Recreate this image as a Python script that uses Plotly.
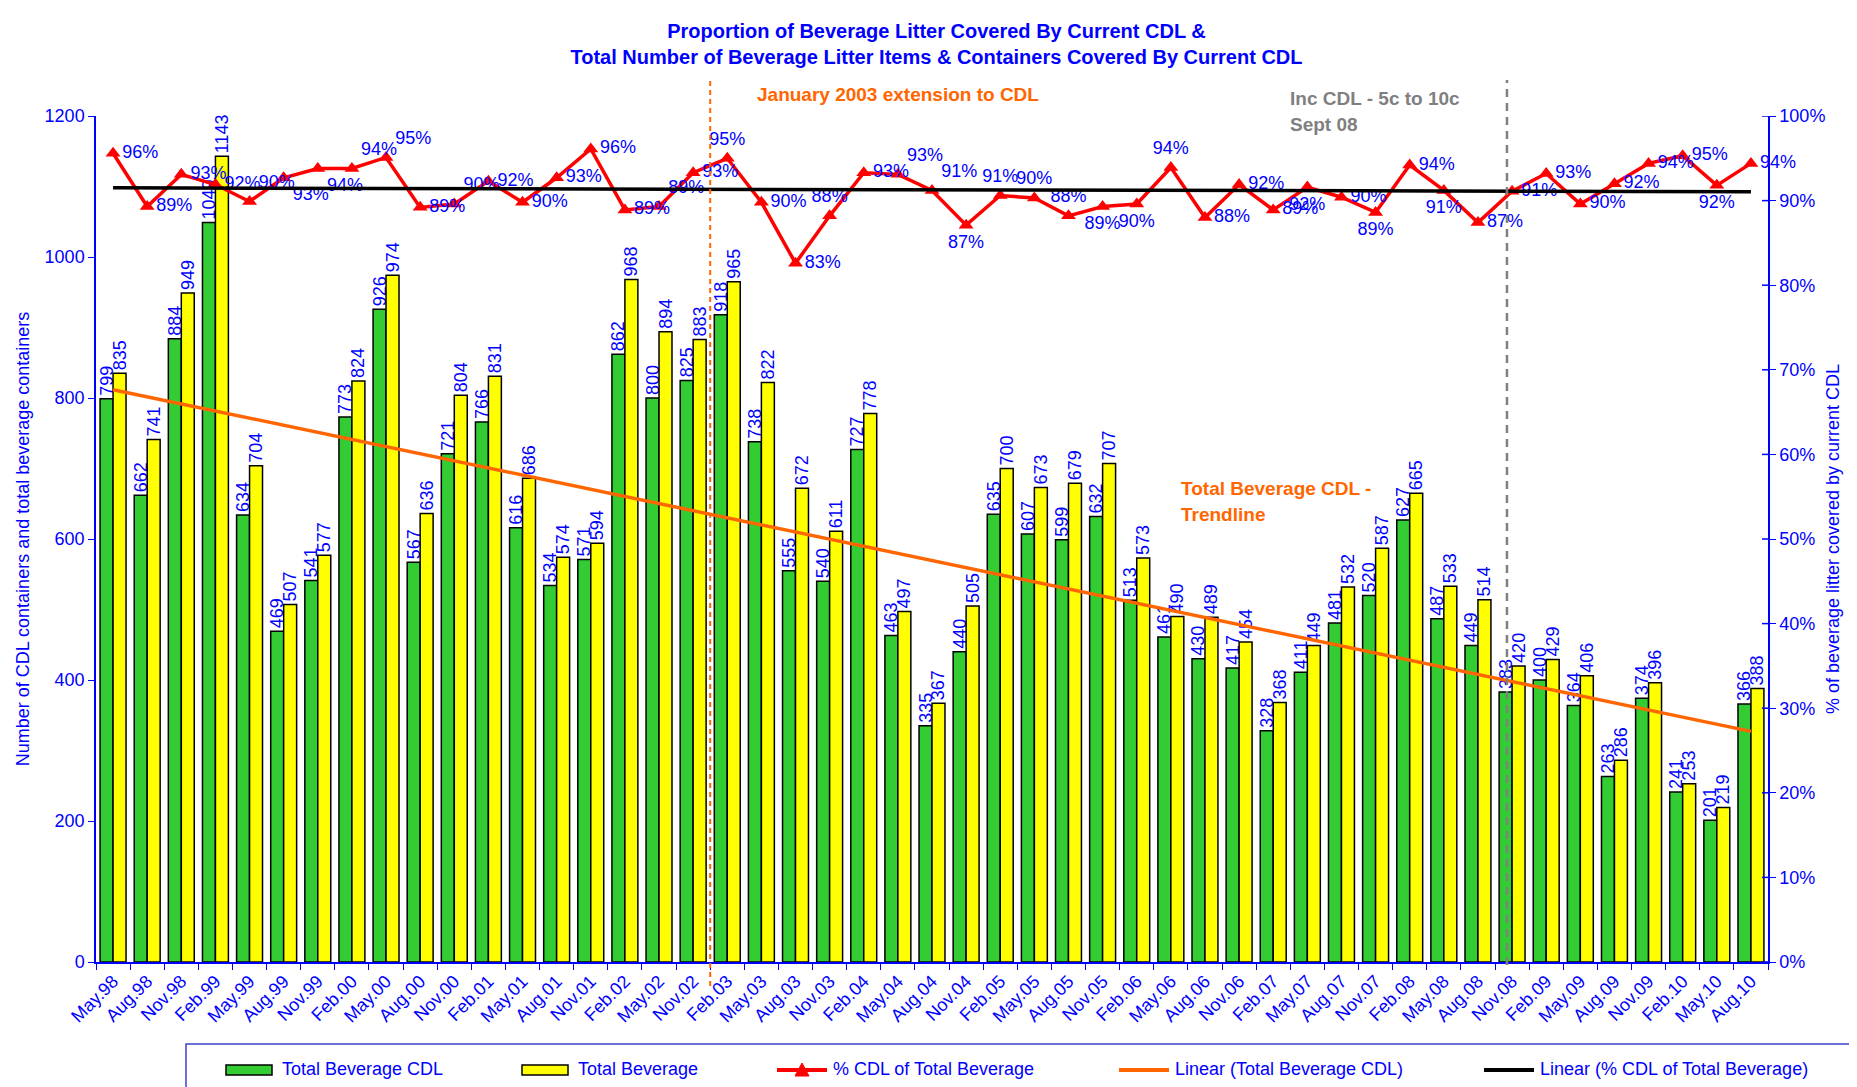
import numpy as np
import plotly.graph_objects as go

# ---------------- data ----------------
categories = ["May.98", "Aug.98", "Nov.98", "Feb.99", "May.99", "Aug.99", "Nov.99", "Feb.00",
              "May.00", "Aug.00", "Nov.00", "Feb.01", "May.01", "Aug.01", "Nov.01", "Feb.02",
              "May.02", "Nov.02", "Feb.03", "May.03", "Aug.03", "Nov.03", "Feb.04", "May.04",
              "Aug.04", "Nov.04", "Feb.05", "May.05", "Aug.05", "Nov.05", "Feb.06", "May.06",
              "Aug.06", "Nov.06", "Feb.07", "May.07", "Aug.07", "Nov.07", "Feb.08", "May.08",
              "Aug.08", "Nov.08", "Feb.09", "May.09", "Aug.09", "Nov.09", "Feb.10", "May.10",
              "Aug.10"]

total_cdl = [799, 662, 884, 1049, 634, 469, 541, 773, 926, 567,
             721, 766, 616, 534, 571, 862, 800, 825, 918, 738,
             555, 540, 727, 463, 335, 440, 635, 607, 599, 632,
             513, 461, 430, 417, 328, 411, 481, 520, 627, 487,
             449, 383, 400, 364, 263, 374, 241, 201, 366]

total_bev = [835, 741, 949, 1143, 704, 507, 577, 824, 974, 636,
             804, 831, 686, 574, 594, 968, 894, 883, 965, 822,
             672, 611, 778, 497, 367, 505, 700, 673, 679, 707,
             573, 490, 489, 454, 368, 449, 532, 587, 665, 533,
             514, 420, 429, 406, 286, 396, 253, 219, 388]

pct_cdl = [95.6, 89.3, 93.1, 91.9, 89.9, 92.7, 93.8, 93.8, 95.1, 89.2,
           89.6, 92.3, 89.8, 92.7, 96.1, 88.9, 89.3, 93.3, 95.0, 89.8,
           82.6, 88.2, 93.3, 93.1, 91.2, 87.1, 90.6, 90.3, 88.2, 89.3,
           89.6, 93.9, 88.0, 91.9, 88.9, 91.6, 90.4, 88.6, 94.2, 91.2,
           87.4, 91.1, 93.2, 89.6, 92.0, 94.4, 95.3, 91.8, 94.4]

left_ticks = [0, 200, 400, 600, 800, 1000, 1200]
right_ticks = [0, 10, 20, 30, 40, 50, 60, 70, 80, 90, 100]
right_tick_labels = ["0%", "10%", "20%", "30%", "40%", "50%", "60%", "70%", "80%", "90%", "100%"]

# ---------------- styling ----------------
FONT = "Arial, Liberation Sans, sans-serif"
BLUE = "#0000FF"
ORANGE = "#FF6600"
GRAY = "#808080"

# label placement of % data labels (style only)
label_pos = ["middle right", "middle right", "middle right", "middle right", "top right",
             "bottom right", "bottom right", "top right", "top right", "middle right",
             "top right", "middle right", "middle right", "middle right", "middle right",
             "middle right", "top right", "middle right", "top center", "middle right",
             "middle right", "top center", "middle right", "top right", "top right",
             "bottom center", "top center", "top center", "top center", "bottom center",
             "bottom center", "top center", "middle right", "middle right", "middle right",
             "bottom center", "middle right", "bottom center", "middle right", "bottom center",
             "middle right", "middle right", "middle right", "middle right", "middle right",
             "middle right", "middle right", "bottom center", "middle right"]

# plot area geometry (pixels)
W, H = 1857, 1087
ML, MR, MT, MB = 88, 97, 108, 133
PW = W - ML - MR
PH = H - MT - MB


def px(x):
    return (x - ML) / PW


def py(y):
    return (H - MB - y) / PH


idx = np.arange(len(categories))
cdl_fit = np.polyval(np.polyfit(idx, total_cdl, 1), idx)
pct_fit = np.polyval(np.polyfit(idx, pct_cdl, 1), idx)

fig = go.Figure()

fig.add_trace(go.Bar(
    x=categories, y=total_cdl, name="Total Beverage CDL",
    marker=dict(color="#33CC33", line=dict(color="black", width=1.5)),
    text=total_cdl, textposition="outside", textangle=-90,
    textfont=dict(family=FONT, size=18, color=BLUE),
    constraintext="none", cliponaxis=False, showlegend=False))

fig.add_trace(go.Bar(
    x=categories, y=total_bev, name="Total Beverage",
    marker=dict(color="#FFFF00", line=dict(color="black", width=1.5)),
    text=total_bev, textposition="outside", textangle=-90,
    textfont=dict(family=FONT, size=18, color=BLUE),
    constraintext="none", cliponaxis=False, showlegend=False))

fig.add_trace(go.Scatter(
    x=categories, y=pct_cdl, yaxis="y2", name="% CDL of Total Beverage",
    mode="lines+markers+text",
    line=dict(color="#FF0000", width=3.5),
    marker=dict(symbol="triangle-up", size=13, color="#FF0000"),
    texttemplate="%{y:.0f}%", textposition=label_pos,
    textfont=dict(family=FONT, size=18, color=BLUE),
    cliponaxis=False, showlegend=False))

fig.add_trace(go.Scatter(
    x=categories, y=cdl_fit, name="Linear (Total Beverage CDL)", mode="lines",
    line=dict(color=ORANGE, width=3.5), showlegend=False, hoverinfo="skip"))

fig.add_trace(go.Scatter(
    x=categories, y=pct_fit, yaxis="y2", name="Linear (% CDL of Total Beverage)",
    mode="lines", line=dict(color="black", width=3.5), showlegend=False,
    hoverinfo="skip"))

# ---------------- shapes ----------------
shapes = [
    # January 2003 extension line (between Nov.02 and Feb.03)
    dict(type="line", xref="x", yref="paper", x0=17.5, x1=17.5,
         y0=py(978), y1=py(72), line=dict(color=ORANGE, width=2, dash="5px,4px"),
         layer="above"),
    # Sept 08 increase line
    dict(type="line", xref="x", yref="paper", x0=40.85, x1=40.85,
         y0=py(957), y1=py(72), line=dict(color=GRAY, width=2.5, dash="8px,6px"),
         layer="above"),
    # legend frame
    dict(type="rect", xref="paper", yref="paper", x0=px(178), x1=px(1845),
         y0=py(1100), y1=py(1036), line=dict(color="#4040CC", width=1.5),
         fillcolor="white", layer="above"),
]

# crossing tick marks on the right axis (Excel "cross" style)
for v in right_ticks:
    shapes.append(dict(type="line", xref="paper", yref="y2", x0=1.0, x1=1.0 - 6 / PW,
                       y0=v, y1=v, line=dict(color=BLUE, width=1.5), layer="above"))

annotations = []

# legend entries
leg_y = 1062
legend_items = [
    ("box", "#33CC33", 218, "Total Beverage CDL"),
    ("box", "#FFFF00", 514, "Total Beverage"),
    ("tri", "#FF0000", 769, "% CDL of Total Beverage"),
    ("line", ORANGE, 1111, "Linear (Total Beverage CDL)"),
    ("line", "black", 1476, "Linear (% CDL of Total Beverage)"),
]
for kind, col, x0, label in legend_items:
    if kind == "box":
        shapes.append(dict(type="rect", xref="paper", yref="paper",
                           x0=px(x0), x1=px(x0 + 46), y0=py(leg_y + 5), y1=py(leg_y - 5),
                           fillcolor=col, line=dict(color="black", width=1.5), layer="above"))
    else:
        shapes.append(dict(type="line", xref="paper", yref="paper",
                           x0=px(x0), x1=px(x0 + 50), y0=py(leg_y), y1=py(leg_y),
                           line=dict(color=col, width=4), layer="above"))
        if kind == "tri":
            cx = x0 + 25
            path = "M {} {} L {} {} L {} {} Z".format(
                px(cx - 7), py(leg_y + 6), px(cx + 7), py(leg_y + 6), px(cx), py(leg_y - 7))
            shapes.append(dict(type="path", xref="paper", yref="paper", path=path,
                               fillcolor=col, line=dict(color=col, width=1), layer="above"))
    annotations.append(dict(xref="paper", yref="paper", x=px(x0 + 54), y=py(leg_y - 1),
                            xanchor="left", yanchor="middle", showarrow=False, text=label,
                            font=dict(family=FONT, size=18, color=BLUE)))

# chart annotations
annotations += [
    dict(xref="paper", yref="paper", x=px(890), y=py(87), xanchor="center", yanchor="middle",
         showarrow=False, text="<b>January 2003 extension to CDL</b>",
         font=dict(family=FONT, size=19, color=ORANGE)),
    dict(xref="paper", yref="paper", x=px(1280), y=py(90), xanchor="left", yanchor="middle",
         showarrow=False, text="<b>Inc CDL - 5c to 10c</b>",
         font=dict(family=FONT, size=19, color=GRAY)),
    dict(xref="paper", yref="paper", x=px(1280), y=py(116), xanchor="left", yanchor="middle",
         showarrow=False, text="<b>Sept 08</b>",
         font=dict(family=FONT, size=19, color=GRAY)),
    dict(xref="paper", yref="paper", x=px(1171), y=py(480), xanchor="left", yanchor="middle",
         showarrow=False, text="<b>Total Beverage CDL -</b>",
         font=dict(family=FONT, size=19, color=ORANGE)),
    dict(xref="paper", yref="paper", x=px(1171), y=py(506), xanchor="left", yanchor="middle",
         showarrow=False, text="<b>Trendline</b>",
         font=dict(family=FONT, size=19, color=ORANGE)),
]

fig.update_layout(
    width=W, height=H,
    margin=dict(l=ML, r=MR, t=MT, b=MB, autoexpand=False),
    paper_bgcolor="white", plot_bgcolor="white",
    font=dict(family=FONT, size=18, color=BLUE),
    title=dict(text="<b>Proportion of Beverage Litter Covered By Current CDL &<br>"
                    "Total Number of Beverage Litter Items & Containers Covered By Current CDL</b>",
               x=0.5, xref="container", xanchor="center",
               y=1 - 30 / H, yref="container", yanchor="top",
               font=dict(family=FONT, size=20, color=BLUE)),
    barmode="group", bargap=0.24, bargroupgap=0,
    showlegend=False,
    xaxis=dict(type="category", range=[-0.5, len(categories) - 0.5],
               tickson="boundaries", ticks="outside", ticklen=6, tickcolor=BLUE,
               showline=True, linecolor=BLUE, linewidth=1.5, showgrid=False,
               tickangle=-45, tickfont=dict(family=FONT, size=18, color=BLUE)),
    yaxis=dict(range=[0, 1200], tickvals=left_ticks, ticks="outside", ticklen=6,
               tickcolor=BLUE, showline=True, linecolor=BLUE, linewidth=1.5,
               showgrid=False, zeroline=False,
               tickfont=dict(family=FONT, size=18, color=BLUE),
               title=dict(text="Number of CDL containers and total beverage containers",
                          font=dict(family=FONT, size=18, color=BLUE), standoff=10)),
    yaxis2=dict(range=[0, 100], tickvals=right_ticks, ticktext=right_tick_labels,
                overlaying="y", side="right", ticks="outside", ticklen=6, tickcolor=BLUE,
                showline=True, linecolor=BLUE, linewidth=1.5, showgrid=False,
                zeroline=False, tickfont=dict(family=FONT, size=18, color=BLUE),
                title=dict(text="% of beverage litter covered by current CDL",
                           font=dict(family=FONT, size=18, color=BLUE), standoff=2)),
    shapes=shapes,
    annotations=annotations,
)

fig.write_html("out.html")
